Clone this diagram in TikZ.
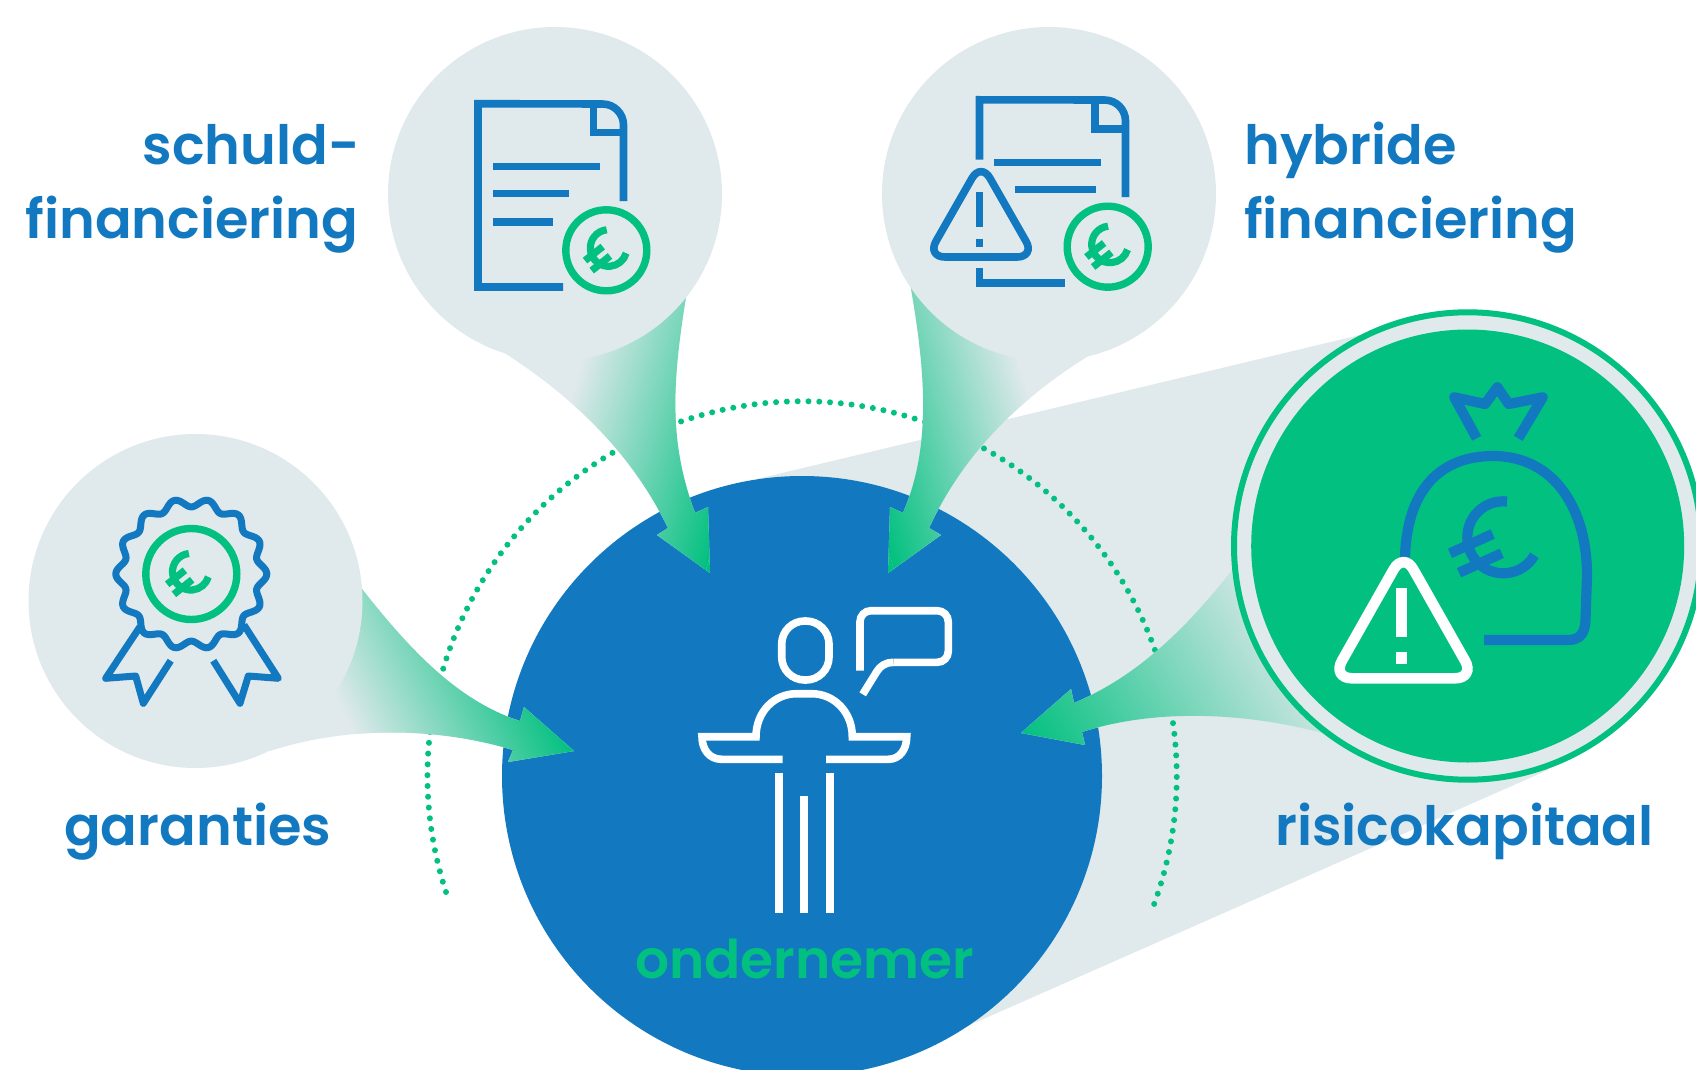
\documentclass[tikz,border=0pt]{standalone}
\usepackage{fontspec}
\setmainfont{Poppins}[UprightFont=* SemiBold]
\definecolor{cBlue}{HTML}{1279C1}
\definecolor{cGreen}{HTML}{02C07F}
\definecolor{cPale}{HTML}{E0E9EC}
\tikzset{
  disc/.style={circle,fill=cPale,inner sep=0pt,minimum size=334pt},
  bluestroke/.style={draw=cBlue,line width=7.6pt,fill=none},
  whitestroke/.style={draw=white,line width=7.6pt,fill=none},
  coin/.style={circle,draw=cGreen,line width=7.4pt,inner sep=0pt},
  lab/.style={inner sep=0pt,text=cBlue,font=\fontsize{54.2}{54.2}\selectfont},
}
% #1 path, #2 #3 gradient start, #4 canvas angle, #5 length
\newcommand{\armfill}[5]{%
  \begin{scope}
    \clip #1;
    \fill[cPale] (0,0) rectangle (1696,1070);
    \begin{scope}[transform canvas={rotate around={#4:(#2,#3)}}]
      \shade[left color=cPale,right color=cGreen] (#2,{#3-900}) rectangle ({#2+#5},{#3+900});
      \fill[cGreen] ({#2+#5},{#3-900}) rectangle ({#2+#5+900},{#3+900});
    \end{scope}
  \end{scope}}
\newcommand{\smalleuro}[3]{%
  \begin{scope}[shift={(#1,#2)}]
    \draw[draw=#3,line width=7.2pt] (2.3,-2.3)++(264:18.3) arc[start angle=264,end angle=16.5,radius=18.3];
    \draw[draw=#3,line width=7.2pt] (-21.3,10.3) -- (-3.6,-3.7);
    \draw[draw=#3,line width=7.2pt] (-14.6,20.3) -- (3.7,5.7);
  \end{scope}}
\begin{document}
\begin{tikzpicture}[x=1pt,y=-1pt]
\useasboundingbox (0,0) rectangle (1696,1070);
\begin{scope}
\clip (0,0) rectangle (1696,1070);
% grey cone behind the venture capital arm
\fill[cPale] (757,479) -- (1360,335) -- (1468,546) -- (1548,770) -- (963,1028) -- (802,776) -- cycle;
% dotted arc
\draw[cGreen,line width=6pt,line cap=round,dash pattern=on 0pt off 10.8pt]
  (446,892) arc[start angle=161.95,end angle=380.6,radius=374.6];
% centre
\node[circle,fill=cBlue,inner sep=0pt,minimum size=600pt] (centre) at (802,776) {};
% arms
\armfill{(688,285) .. controls (672,380) and (668,440) .. (695,513) -- (708,507) -- (710,573) -- (657,535) -- (668,528) .. controls (630,450) and (570,395) .. (503,352) -- (560,300) -- cycle}{573}{390}{-16.7}{179}
\armfill{(908,272) .. controls (926,370) and (932,445) .. (903,513) -- (890,507) -- (888,573) -- (941,535) -- (929,528) .. controls (965,450) and (1025,395) .. (1090,355) -- (1040,300) -- cycle}{1027}{390}{196.7}{179}
\armfill{(352,576) .. controls (405,645) and (455,700) .. (520,721) -- (524,707) -- (574,751) -- (508,762) -- (513,750) .. controls (440,728) and (350,725) .. (270,751) -- (250,650) -- cycle}{345}{715}{26.6}{189}
\armfill{(1240,560) .. controls (1190,625) and (1140,675) .. (1074,703) -- (1071,689) -- (1021,733) -- (1085,745) -- (1082,732) .. controls (1150,710) and (1240,710) .. (1330,735) -- (1350,600) -- cycle}{1272}{578}{211}{295}
% discs
\node[disc] (schulddisc) at (555,194) {};
\node[disc] (hybriddisc) at (1049,194) {};
\node[disc] (garantdisc) at (195.5,601) {};
\node[circle,fill=cPale,draw=cGreen,line width=6pt,inner sep=0pt,minimum size=467.4pt] (risicoring) at (1467.7,546) {};
\node[circle,fill=cGreen,inner sep=0pt,minimum size=433pt] (risicodisc) at (1467.7,546) {};

% document icon
\draw[bluestroke] (623.5,201) -- (623.5,125) arc[start angle=0,end angle=-90,radius=21] -- (478,103.7) -- (478,287) -- (563,287);
\draw[bluestroke] (593.5,103.7) -- (593.5,132.5) -- (623.5,132.5);
\draw[bluestroke] (493,166.3) -- (600,166.3);
\draw[bluestroke] (493,193.3) -- (569,193.3);
\draw[bluestroke] (493,221.8) -- (553,221.8);
\node[coin,minimum size=81pt] (coina) at (606.3,250.3) {};
\smalleuro{606.3}{250.3}{cGreen}

% hybrid icon
\draw[bluestroke] (1125.5,197) -- (1125.5,121) arc[start angle=0,end angle=-90,radius=21] -- (979.5,99.8) -- (979.5,159.7);
\draw[bluestroke] (979.5,268.3) -- (979.5,283.2) -- (1065,283.2);
\draw[bluestroke] (1094.8,99.8) -- (1094.8,128.8) -- (1125.5,128.8);
\draw[bluestroke] (994.3,162.5) -- (1101.3,162.5);
\draw[bluestroke] (1015,189.5) -- (1096,189.5);
\draw[bluestroke,rounded corners=18pt] (981,162.5) -- (927,257) -- (1035,257) -- cycle;
\draw[bluestroke] (979.5,191.7) -- (979.5,227.3);
\draw[bluestroke] (979.5,238.7) -- (979.5,247);
\node[coin,minimum size=81pt] (coinb) at (1107.7,246.7) {};
\smalleuro{1107.7}{246.7}{cGreen}

% rosette icon
\draw[bluestroke,line width=7pt] plot[domain=0:360,samples=281,smooth] ({191.3+(71.3+4.2*cos(14*\x))*cos(\x)},{574+(71.3+4.2*cos(14*\x))*sin(\x)}) -- cycle;
\draw[bluestroke,line width=7pt,line join=round] (140,626.7) -- (105.7,678.3) -- (135.7,676) -- (143.3,703.3) -- (170.7,660.7);
\draw[bluestroke,line width=7pt,line join=round] (244,625) -- (278.3,678.3) -- (248.3,676) -- (240,703.3) -- (213.3,660.7);
\node[coin,minimum size=91pt] (coinc) at (191.3,574) {};
\smalleuro{188.5}{574}{cGreen}

% money bag
\draw[bluestroke,line width=10.2pt,line join=round] (1476.7,438.3) -- (1454.3,397.3) -- (1485,404) -- (1497.3,387.3) -- (1508.7,404) -- (1542.7,397.3) -- (1518.3,438.3);
\draw[bluestroke,line width=10.2pt] (1405,557) .. controls (1407,490) and (1440,456) .. (1493,456) .. controls (1555,456) and (1587,510) .. (1587,575) -- (1585.5,620) .. controls (1585,633) and (1580,640) .. (1568,640) -- (1484,640);
\draw[bluestroke,line width=10.2pt] (1503.3,537.3)++(276:36) arc[start angle=276,end angle=30,radius=36];
\draw[bluestroke,line width=10.2pt] (1450,553.3) -- (1492.7,534);
\draw[bluestroke,line width=10.2pt] (1459,572.7) -- (1501.7,553.3);
\draw[whitestroke,line width=10.6pt,rounded corners=20pt] (1403.5,552) -- (1332,678.3) -- (1475,678.3) -- cycle;
\draw[whitestroke,line width=10.6pt] (1401.7,588.3) -- (1401.7,637.3);
\draw[whitestroke,line width=10.6pt] (1401.7,652.3) -- (1401.7,664);

% person
\draw[whitestroke,rounded corners=23pt] (781.7,621) rectangle (829,680);
\draw[whitestroke] (782.7,759.3) -- (721.7,759.3) .. controls (709,759.3) and (702,749) .. (702,736.7) -- (756,736.7) .. controls (756,712) and (774,693.7) .. (796.7,693.7) -- (811.7,693.7) .. controls (834,693.7) and (852.3,712) .. (852.3,736.7) -- (906.7,736.7) .. controls (906.7,749) and (900,759.3) .. (888.3,759.3) -- (826,759.3);
\draw[whitestroke] (779,773) -- (779,912.7);
\draw[whitestroke] (804,796) -- (804,912.7);
\draw[whitestroke] (829.7,773) -- (829.7,912.7);
\draw[whitestroke,rounded corners=11pt] (860,670.7) -- (860,610.7) -- (948.3,610.7) -- (948.3,662.3) -- (893.3,662.3);
\draw[whitestroke] (893.3,662.3) .. controls (886,662.3) and (880,666) .. (876.7,671.7) -- (862.7,694.3);

% labels
\node[lab,anchor=base east] (schuld) at (360,164.3) {schuld-};
\node[lab,anchor=base east] (schuldb) at (358.5,238.3) {financiering};
\node[lab,anchor=base west] (hybrid) at (1244,164.3) {hybride};
\node[lab,anchor=base west] (hybridb) at (1244,238.3) {financiering};
\node[lab,anchor=base west] (garant) at (64,845) {garanties};
\node[lab,anchor=base west] (risico) at (1275,845) {risicokapitaal};
\node[lab,anchor=base west,text=cGreen,font=\fontsize{53.4}{53.4}\selectfont] (onder) at (635,978.7) {ondernemer};
\end{scope}
\end{tikzpicture}
\end{document}
